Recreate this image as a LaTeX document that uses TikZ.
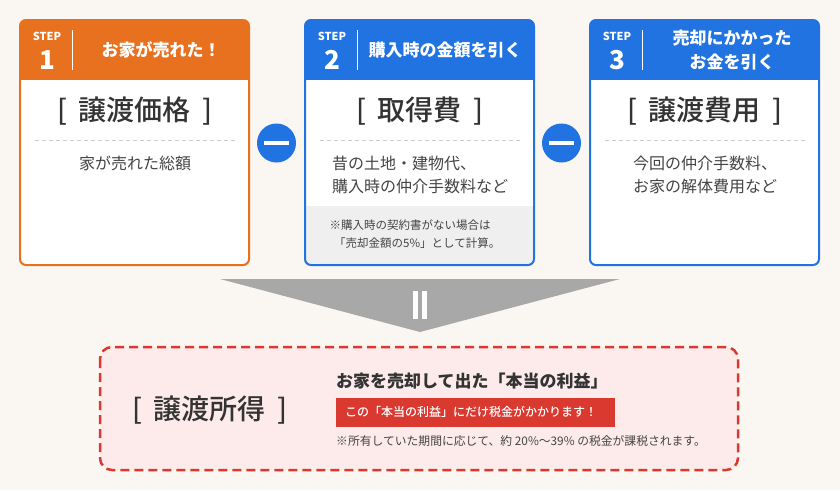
\documentclass[tikz,border=0pt]{standalone}
\usepackage{fontspec}
\newfontfamily\jpfont{Noto Sans CJK JP}
\newfontfamily\jpmedium{Noto Sans CJK JP Medium}
\definecolor{bgCream}{HTML}{FAF7F3}
\definecolor{stepOrange}{HTML}{E8711F}
\definecolor{stepBlue}{HTML}{2173E1}
\definecolor{profitRed}{HTML}{D9392F}
\definecolor{profitPink}{HTML}{FDEBEB}
\definecolor{noteBg}{HTML}{EFEFEF}
\definecolor{arrowGray}{HTML}{A8A8A8}
\definecolor{inkDark}{HTML}{333333}
\definecolor{inkMid}{HTML}{444444}
\begin{document}
\begin{tikzpicture}[x=1pt,y=-1pt,
    steplabel/.style={font=\jpfont\bfseries\fontsize{11}{12}\selectfont,text=white,inner sep=0},
    stepnum/.style={font=\jpfont\bfseries\fontsize{26}{28}\selectfont,text=white,inner sep=0},
    headtext/.style={font=\jpfont\bfseries\fontsize{17}{24}\selectfont,text=white,inner sep=0,align=center},
    bigterm/.style={font=\jpmedium\fontsize{28}{30}\selectfont,text=inkDark,inner sep=0},
    desc/.style={font=\jpfont\fontsize{16}{23}\selectfont,text=inkMid,inner sep=0,align=left},
    note/.style={font=\jpfont\fontsize{11.5}{18}\selectfont,text=inkMid,inner sep=0,align=left},
    minus/.style={circle,fill=stepBlue,minimum size=39,inner sep=0},
    sepline/.style={draw=black!20,line width=1,dash pattern=on 4 off 3}]
  % background
  \fill[bgCream] (0,0) rectangle (840,490);
  \useasboundingbox (0,0) rectangle (840,490);

  % card 1: orange
  \begin{scope}
    \clip[rounded corners=6] (20,20) rectangle (249,265);
    \fill[white] (20,20) rectangle (249,265);
    \fill[stepOrange] (20,20) rectangle (249,80);
  \end{scope}
  \draw[stepOrange,line width=2,rounded corners=6] (20,20) rectangle (249,265);
  \node[steplabel] (s1) at (47,36) {STEP};
  \node[stepnum] (n1) at (47,60) {1};
  \draw[white,line width=1] (72,30) -- (72,70);
  \node[headtext] (h1) at (161,50) {お家が売れた！};
  \node[bigterm] (t1) at (135,111) {[\hspace{0.4em}譲渡価格\hspace{0.4em}]};
  \draw[sepline] (35,140) -- (235,140);
  \node[desc] (d1) at (135,163) {家が売れた総額};

  % card 2: blue, with note
  \begin{scope}
    \clip[rounded corners=6] (305,20) rectangle (534,265);
    \fill[white] (305,20) rectangle (534,265);
    \fill[stepBlue] (305,20) rectangle (534,80);
    \fill[noteBg] (305,206) rectangle (534,265);
  \end{scope}
  \draw[stepBlue,line width=2,rounded corners=6] (305,20) rectangle (534,265);
  \node[steplabel] (s2) at (332,36) {STEP};
  \node[stepnum] (n2) at (332,60) {2};
  \draw[white,line width=1] (357,30) -- (357,70);
  \node[headtext] (h2) at (445,50) {購入時の金額を引く};
  \node[bigterm] (t2) at (420,111) {[\hspace{0.4em}取得費\hspace{0.4em}]};
  \draw[sepline] (320,140) -- (520,140);
  \node[desc] (d2) at (420,174.5) {昔の土地・建物代、\\購入時の仲介手数料など};
  \node[note] (m2) at (415,234) {※購入時の契約書がない場合は\\\hspace{0.4em}「売却金額の5\%」として計算。};

  % card 3: blue
  \begin{scope}
    \clip[rounded corners=6] (590,20) rectangle (819,265);
    \fill[white] (590,20) rectangle (819,265);
    \fill[stepBlue] (590,20) rectangle (819,80);
  \end{scope}
  \draw[stepBlue,line width=2,rounded corners=6] (590,20) rectangle (819,265);
  \node[steplabel] (s3) at (617,36) {STEP};
  \node[stepnum] (n3) at (617,60) {3};
  \draw[white,line width=1] (642,30) -- (642,70);
  \node[headtext] (h3) at (732,50) {売却にかかった\\お金を引く};
  \node[bigterm] (t3) at (705,111) {[\hspace{0.4em}譲渡費用\hspace{0.4em}]};
  \draw[sepline] (605,140) -- (805,140);
  \node[desc] (d3) at (705,174.5) {今回の仲介手数料、\\お家の解体費用など};

  % minus signs between cards
  \node[minus] (m12) at (276.5,143) {\color{white}\rule{25pt}{4.5pt}};
  \node[minus] (m23) at (561.5,143) {\color{white}\rule{25pt}{4.5pt}};

  % equals arrow
  \fill[arrowGray] (220,279) -- (620,279) -- (420,332) -- cycle;
  \fill[white] (413,291) rectangle (418,319);
  \fill[white] (422,291) rectangle (427,319);

  % result box
  \draw[profitRed,fill=profitPink,line width=2.5,dash pattern=on 9 off 5,rounded corners=12] (100,347) rectangle (738,470);
  \node[bigterm] (t4) at (210,410) {[\hspace{0.4em}譲渡所得\hspace{0.4em}]};
  \node[font=\jpfont\bfseries\fontsize{17}{20}\selectfont,text=inkDark,inner sep=0,anchor=west] (r1) at (336,381) {お家を売却して出た「本当の利益」};
  \node[fill=profitRed,text=white,font=\jpmedium\fontsize{12}{14}\selectfont,anchor=west,
        minimum height=29,text width=261,inner xsep=9,inner ysep=0,align=left] (r2) at (336,412) {この「本当の利益」にだけ税金がかかります！};
  \node[font=\jpfont\fontsize{11.8}{13}\selectfont,text=inkMid,inner sep=0,anchor=west] (r3) at (336,441) {※所有していた期間に応じて、約 20\%〜39\% の税金が課税されます。};
\end{tikzpicture}
\end{document}
